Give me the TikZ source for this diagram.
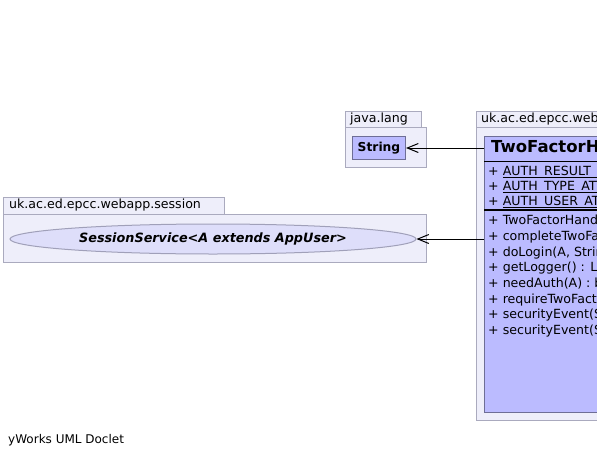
\documentclass[tikz,border=0pt]{standalone}
\usepackage{fontspec}
\setmainfont{DejaVu Sans}
\usetikzlibrary{arrows.meta,shapes.geometric}
\definecolor{pkgfill}{RGB}{238,238,250}
\definecolor{pkgdraw}{RGB}{170,170,190}
\definecolor{clsfill}{RGB}{187,187,255}
\definecolor{clsdraw}{RGB}{110,110,150}
\definecolor{ellfill}{RGB}{222,222,250}
\definecolor{elldraw}{RGB}{160,160,185}
\newsavebox\statbox
\newcommand{\stat}[1]{\sbox\statbox{#1}\rlap{\rule[-2.3pt]{\wd\statbox}{0.9pt}}\usebox\statbox}
\tikzset{
  pkg/.style={draw=pkgdraw, fill=pkgfill, line width=1pt},
  lbl/.style={anchor=west, inner sep=0pt, font=\fontsize{12.6}{14}\selectfont},
  member/.style={anchor=west, inner sep=0pt, font=\fontsize{12.6}{14}\selectfont},
  dep/.style={line width=1pt, -{Straight Barb[length=11pt,width=9pt,line width=1pt]}},
}
\begin{document}
\begin{tikzpicture}[x=1pt,y=-1pt]
\useasboundingbox (0,0) rectangle (597,458);
\fill[white] (0,0) rectangle (597,458);
\clip (0,0) rectangle (597,458);
% java.lang package
\draw[pkg] (345,111) rectangle (421,127);
\draw[pkg] (345,127) rectangle (426,167);
\node[lbl] (pkgjl) at (350,119) {java.lang};
\node[draw=clsdraw, fill=clsfill, line width=1pt, minimum width=53pt, minimum height=23pt, inner sep=0pt,
      font=\fontsize{12.3}{14}\selectfont\bfseries, anchor=north west] (str) at (352,136) {String};
% main package
\draw[pkg] (476,111) rectangle (640,127);
\draw[pkg] (476,127) rectangle (640,420);
\node[lbl] (pkgmain) at (481,119) {uk.ac.ed.epcc.webapp.twofactor};
\node[draw=clsdraw, fill=clsfill, line width=1pt, minimum width=150pt, minimum height=276pt, inner sep=0pt,
      anchor=north west] (cls) at (484,136) {};
\draw[line width=1pt] (484,161) -- (640,161);
\draw[line width=2pt] (484,210) -- (640,210);
\node[anchor=west, inner sep=0pt, font=\fontsize{16.5}{18}\selectfont\bfseries] (title) at (491,148) {TwoFactorHandler<A extends AppUser>};
\node[member] (a1) at (488,172) {+ \stat{AUTH\_RESULT\_ATTR}};
\node[member] (a2) at (488,187) {+ \stat{AUTH\_TYPE\_ATTR}};
\node[member] (a3) at (488,202) {+ \stat{AUTH\_USER\_ATTR}};
\node[member] (m1) at (488,221) {+ TwoFactorHandler(SessionService)};
\node[member] (m2) at (488,237) {+ completeTwoFactor(A, String)};
\node[member] (m3) at (488,253) {+ doLogin(A, String, Object)};
\node[member] (m4) at (488,268) {+ getLogger() : Logger};
\node[member] (m5) at (488,284) {+ needAuth(A) : boolean};
\node[member] (m6) at (488,300) {+ requireTwoFactor(A) : boolean};
\node[member] (m7) at (488,315) {+ securityEvent(String, A)};
\node[member] (m8) at (488,331) {+ securityEvent(String, A, Map)};
% session package
\draw[pkg] (3,197) rectangle (224,214);
\draw[pkg] (3,214) rectangle (426,262);
\node[lbl] (pkgsess) at (9,205) {uk.ac.ed.epcc.webapp.session};
\node[ellipse, draw=elldraw, fill=ellfill, line width=1pt, minimum width=406pt, minimum height=30pt, inner sep=0pt,
      font=\fontsize{12.8}{14}\selectfont\bfseries\itshape] (sess) at (213,239) {SessionService<A extends AppUser>};
% dependencies
\draw[dep] (cls.west |- str.east) -- (str.east);
\draw[dep] (cls.west |- sess.east) -- (sess.east);
% footer
\node[anchor=west, inner sep=0pt, font=\fontsize{12}{14}\selectfont] (footer) at (8,440) {yWorks UML Doclet};
\end{tikzpicture}
\end{document}
